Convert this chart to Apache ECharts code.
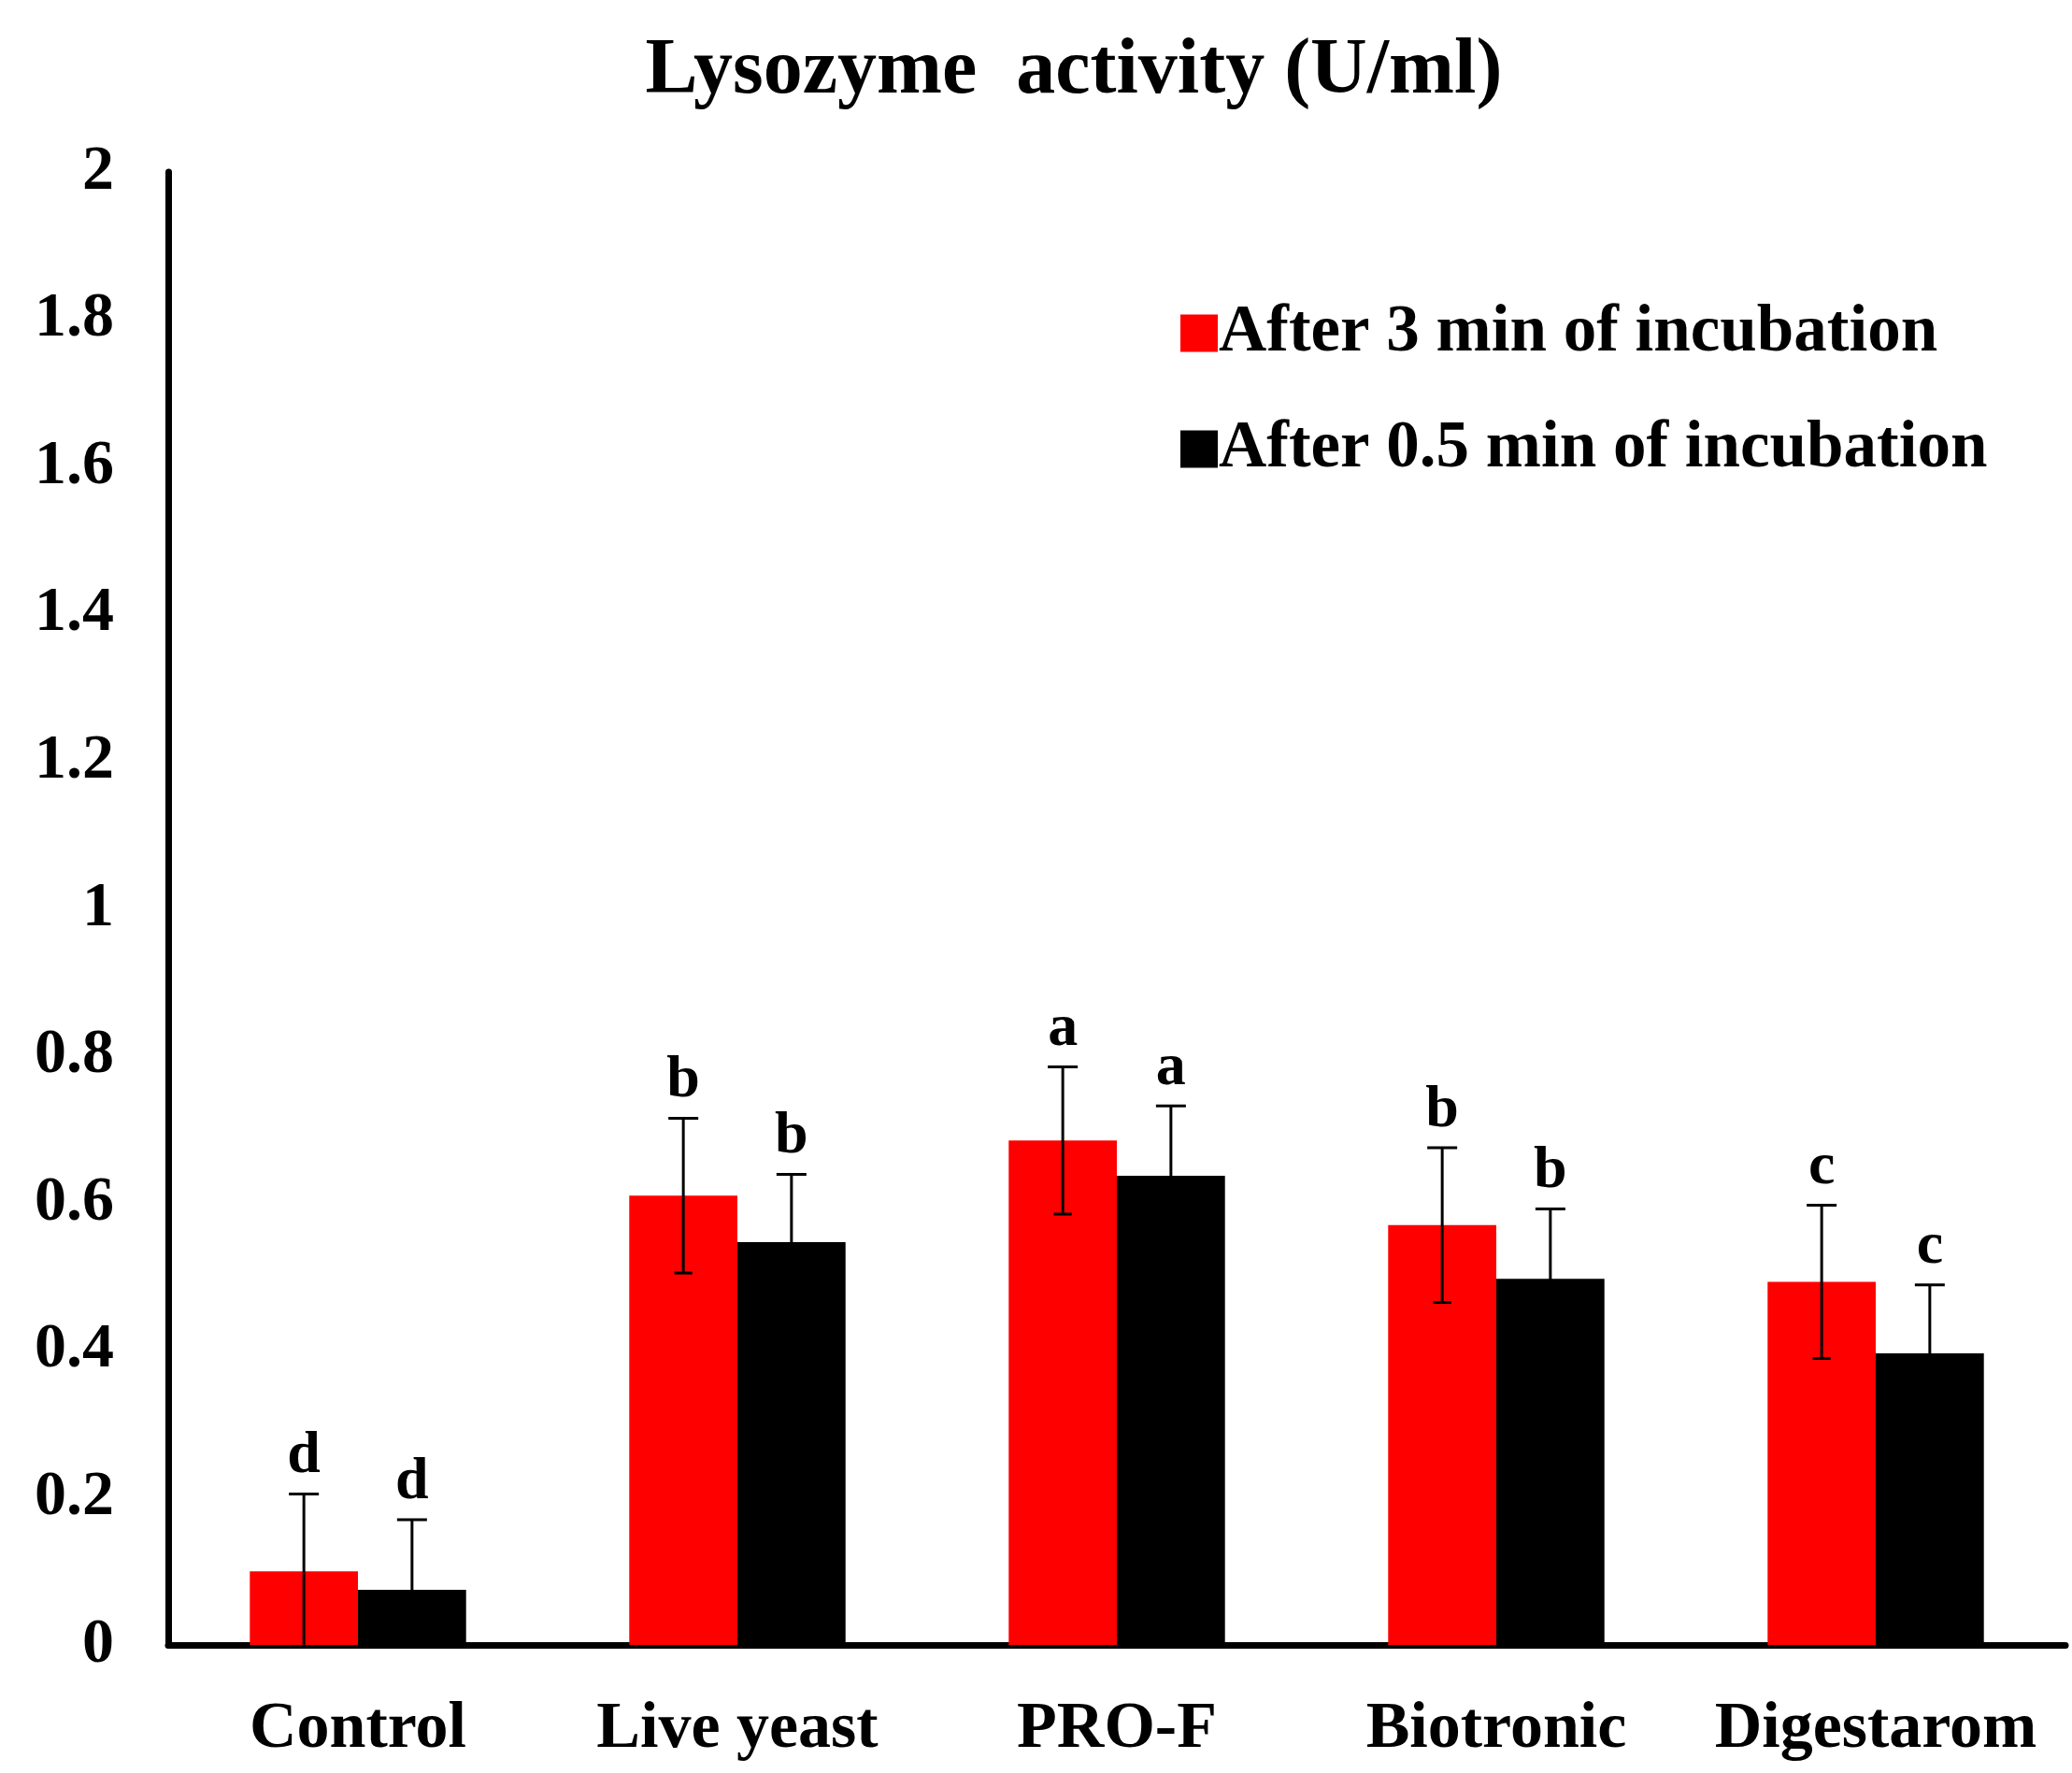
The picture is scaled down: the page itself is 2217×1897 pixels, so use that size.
<!DOCTYPE html>
<html>
<head>
<meta charset="utf-8">
<script src="https://cdn.jsdelivr.net/npm/echarts@6/dist/echarts.min.js"></script>
<style>
  html, body { margin: 0; padding: 0; background: #fff; }
  #chart { width: 2217px; height: 1897px; }
</style>
</head>
<body>
<div id="chart"></div>
<script>
// data
var categories = ['Control', 'Live yeast', 'PRO-F', 'Biotronic', 'Digestarom'];
var after3 = [0.10, 0.61, 0.685, 0.57, 0.493];
var after3Err = [0.105, 0.105, 0.10, 0.105, 0.104];
var after3Letters = ['d', 'b', 'a', 'b', 'c'];
var after05 = [0.075, 0.547, 0.637, 0.497, 0.396];
var after05Err = [0.095, 0.092, 0.095, 0.095, 0.093];
var after05Letters = ['d', 'b', 'a', 'b', 'c'];
var seriesNames = ['After 3 min of incubation', 'After 0.5 min of incubation'];

var FONT = '"Liberation Serif", "Times New Roman", serif';
var GAP = 0.43; // barCategoryGap

function errorSeries(name, values, errs, letters, side) {
  var data = values.map(function (v, i) { return [i, v, errs[i]]; });
  return {
    type: 'custom',
    name: name,
    data: data,
    z: 10,
    renderItem: function (params, api) {
      var idx = api.value(0);
      var v = api.value(1);
      var e = api.value(2);
      var band = api.size([1, 0])[0];
      var barW = band * (1 - GAP) / 2;
      var top = api.coord([idx, v + e]);
      var low = Math.max(v - e, 0);
      var bot = api.coord([idx, low]);
      var x = top[0] + side * barW / 2;
      var cap = 16;
      var st = { stroke: '#000', lineWidth: 3 };
      var kids = [
        { type: 'line', shape: { x1: x, y1: top[1], x2: x, y2: bot[1] }, style: st },
        { type: 'line', shape: { x1: x - cap, y1: top[1], x2: x + cap, y2: top[1] }, style: st },
        {
          type: 'text',
          style: {
            x: x, y: top[1] - 8,
            text: letters[idx],
            font: 'bold 64px ' + FONT,
            fill: '#000',
            align: 'center',
            verticalAlign: 'bottom'
          }
        }
      ];
      if (low > 0) {
        kids.push({ type: 'line', shape: { x1: x - cap * 0.6, y1: bot[1], x2: x + cap * 0.6, y2: bot[1] }, style: st });
      }
      return { type: 'group', children: kids };
    }
  };
}

var chart = echarts.init(document.getElementById('chart'));
chart.setOption({
  animation: false,
  backgroundColor: '#fff',
  title: {
    text: 'Lysozyme  activity (U/ml)',
    left: 1144,
    textAlign: 'center',
    top: 30,
    textStyle: { fontFamily: FONT, fontWeight: 'bold', fontSize: 84, color: '#000' }
  },
  legend: {
    orient: 'vertical',
    left: 1258,
    top: 316,
    itemWidth: 40,
    itemHeight: 40,
    itemGap: 53,
    icon: 'rect',
    data: seriesNames,
    textStyle: { fontFamily: FONT, fontWeight: 'bold', fontSize: 71, color: '#000', padding: [0, 0, 0, -4] }
  },
  grid: { left: 180, right: 7, top: 184, bottom: 137, containLabel: false },
  xAxis: {
    type: 'category',
    data: categories,
    axisLine: { lineStyle: { color: '#000', width: 7 } },
    axisTick: { show: false },
    axisLabel: { interval: 0, fontFamily: FONT, fontWeight: 'bold', fontSize: 70, color: '#000', margin: 56 }
  },
  yAxis: {
    type: 'value',
    min: 0,
    max: 2,
    interval: 0.2,
    axisLine: { show: true, lineStyle: { color: '#000', width: 7 } },
    axisTick: { show: false },
    splitLine: { show: false },
    axisLabel: { fontFamily: FONT, fontWeight: 'bold', fontSize: 68, color: '#000', margin: 58 }
  },
  series: [
    { type: 'bar', name: seriesNames[0], data: after3, itemStyle: { color: '#ff0000' }, barGap: '0%', barCategoryGap: '43%' },
    { type: 'bar', name: seriesNames[1], data: after05, itemStyle: { color: '#000000' }, barGap: '0%', barCategoryGap: '43%' },
    errorSeries(seriesNames[0], after3, after3Err, after3Letters, -1),
    errorSeries(seriesNames[1], after05, after05Err, after05Letters, 1)
  ]
});
</script>
</body>
</html>
